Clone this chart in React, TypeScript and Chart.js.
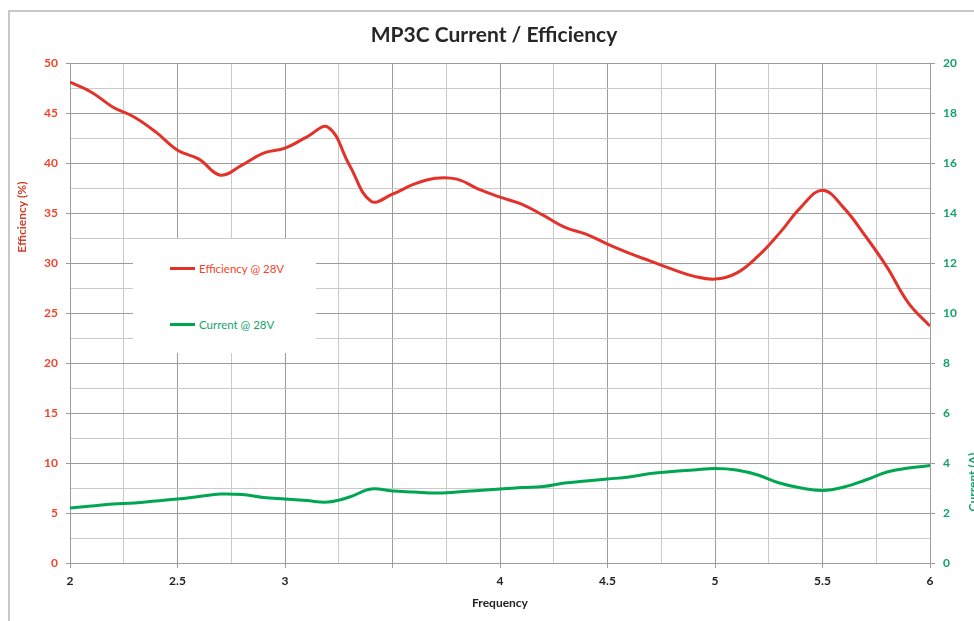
import React, { useEffect, useRef } from 'react';
import { Chart, registerables } from 'chart.js';

Chart.register(...registerables);

// ---- data ----
const frequency = [
  2.0, 2.1, 2.2, 2.3, 2.4, 2.5, 2.6, 2.7, 2.8, 2.9,
  3.0, 3.1, 3.2, 3.3, 3.4, 3.5, 3.6, 3.7, 3.8, 3.9,
  4.0, 4.1, 4.2, 4.3, 4.4, 4.5, 4.6, 4.7, 4.8, 4.9,
  5.0, 5.1, 5.2, 5.3, 5.4, 5.5, 5.6, 5.7, 5.8, 5.9, 6.0,
];
const efficiency = [
  48.1, 47.1, 45.6, 44.6, 43.1, 41.3, 40.4, 38.8, 39.8, 41.0,
  41.5, 42.6, 43.6, 39.8, 36.2, 36.9, 37.9, 38.5, 38.4, 37.4,
  36.6, 35.9, 34.8, 33.6, 32.9, 31.9, 31.0, 30.2, 29.4, 28.7,
  28.4, 29.0, 30.7, 33.0, 35.6, 37.3, 35.5, 32.7, 29.6, 26.0, 23.7,
];
const current = [
  2.2, 2.28, 2.36, 2.4, 2.48, 2.56, 2.66, 2.76, 2.74, 2.62,
  2.56, 2.5, 2.44, 2.64, 2.96, 2.88, 2.84, 2.8, 2.84, 2.9,
  2.96, 3.02, 3.06, 3.2, 3.28, 3.36, 3.44, 3.58, 3.66, 3.72,
  3.78, 3.72, 3.52, 3.2, 3.0, 2.9, 3.04, 3.32, 3.64, 3.8, 3.9,
];
const seriesLabels = ['Efficiency @ 28V', 'Current @ 28V'];
const chartTitle = 'MP3C Current / Efficiency';
const xTitle = 'Frequency';
const yLeftTitle = 'Efficiency (%)';
const yRightTitle = 'Current (A)';

// ---- styles ----
const RED = '#e2322a';
const GREEN = '#00a651';
const RED_TEXT = '#f0442c';
const GREEN_TEXT = '#11a36a';
const RED_TITLE = '#cf3f2b';
const GRID_MAJOR = '#9c9c9c';
const GRID_MINOR = '#cacaca';
const FONT = 'Lato, "Open Sans", sans-serif';
const W = 988;
const H = 621;

const isMultiple = (v: number, step: number) =>
  Math.abs(v / step - Math.round(v / step)) < 1e-6;

const axisTitlePlugin = {
  id: 'axisTitles',
  afterDraw(chart: any) {
    const { ctx, chartArea } = chart;
    const h = chartArea.bottom - chartArea.top;
    ctx.save();
    ctx.font = `bold 12px ${FONT}`;
    ctx.textAlign = 'center';
    ctx.textBaseline = 'middle';
    ctx.fillStyle = RED_TITLE;
    ctx.translate(chartArea.left - 48, chartArea.top + h * 0.308);
    ctx.rotate(-Math.PI / 2);
    ctx.fillText(yLeftTitle, 0, 0);
    ctx.restore();

    ctx.save();
    ctx.font = `bold 12px ${FONT}`;
    ctx.textAlign = 'center';
    ctx.textBaseline = 'middle';
    ctx.fillStyle = GREEN_TEXT;
    ctx.translate(chartArea.right + 43, chartArea.top + h * 0.838);
    ctx.rotate(-Math.PI / 2);
    ctx.fillText(yRightTitle, 0, 0);
    ctx.restore();
  },
};

export default function App() {
  const canvasRef = useRef<HTMLCanvasElement | null>(null);

  useEffect(() => {
    if (!canvasRef.current) return;
    const chart = new Chart(canvasRef.current, {
      type: 'line',
      data: {
        datasets: [
          {
            label: seriesLabels[0],
            data: frequency.map((f, i) => ({ x: f, y: efficiency[i] })),
            borderColor: RED,
            backgroundColor: RED,
            borderWidth: 3,
            pointRadius: 0,
            tension: 0.4,
            yAxisID: 'y',
          },
          {
            label: seriesLabels[1],
            data: frequency.map((f, i) => ({ x: f, y: current[i] })),
            borderColor: GREEN,
            backgroundColor: GREEN,
            borderWidth: 3,
            pointRadius: 0,
            tension: 0.4,
            yAxisID: 'y1',
          },
        ],
      },
      options: {
        responsive: false,
        animation: false,
        devicePixelRatio: 1,
        layout: { padding: 0 },
        plugins: {
          legend: { display: false },
          tooltip: { enabled: false },
          title: {
            display: true,
            text: chartTitle,
            color: '#262626',
            font: { family: FONT, size: 21, weight: 'bold' },
            padding: { top: 23, bottom: 15 },
          },
        },
        scales: {
          x: {
            type: 'linear',
            position: 'bottom',
            min: 2,
            max: 6,
            afterFit: (s: any) => { s.height = 58; },
            ticks: {
              stepSize: 0.25,
              autoSkip: false,
              maxRotation: 0,
              padding: 6,
              color: '#222222',
              font: { family: FONT, size: 12, weight: 'bold' },
              callback: (v: any) => {
                const n = Number(v);
                if (!isMultiple(n, 0.5) || Math.abs(n - 3.5) < 1e-6) return '';
                return String(n);
              },
            },
            grid: {
              color: (c: any) => (c.tick && isMultiple(c.tick.value, 0.5) ? GRID_MAJOR : GRID_MINOR),
              tickColor: (c: any) => (c.tick && isMultiple(c.tick.value, 0.5) ? GRID_MAJOR : 'rgba(0,0,0,0)'),
              tickLength: 5,
              lineWidth: 1,
            },
            border: { color: GRID_MAJOR, width: 1 },
            title: {
              display: true,
              text: xTitle,
              color: '#222222',
              font: { family: FONT, size: 12, weight: 'bold' },
              padding: { top: 0, bottom: 11 },
            },
          },
          y: {
            type: 'linear',
            position: 'left',
            min: 0,
            max: 50,
            afterFit: (s: any) => { s.width = 70; },
            ticks: {
              stepSize: 2.5,
              autoSkip: false,
              padding: 8,
              color: RED_TEXT,
              font: { family: FONT, size: 12, weight: 'bold' },
              callback: (v: any) => {
                const n = Number(v);
                return isMultiple(n, 5) ? String(n) : '';
              },
            },
            grid: {
              color: (c: any) => (c.tick && isMultiple(c.tick.value, 5) ? GRID_MAJOR : GRID_MINOR),
              tickColor: (c: any) => (c.tick && isMultiple(c.tick.value, 5) ? GRID_MAJOR : 'rgba(0,0,0,0)'),
              tickLength: 4,
              lineWidth: 1,
            },
            border: { color: GRID_MAJOR, width: 1 },
          },
          y1: {
            type: 'linear',
            position: 'right',
            min: 0,
            max: 20,
            afterFit: (s: any) => { s.width = W - 930; },
            ticks: {
              stepSize: 2,
              padding: 8,
              color: GREEN_TEXT,
              font: { family: FONT, size: 12, weight: 'bold' },
            },
            grid: {
              drawOnChartArea: false,
              tickColor: GRID_MAJOR,
              tickLength: 5,
            },
            border: { color: GRID_MAJOR, width: 1 },
          },
        },
      },
      plugins: [axisTitlePlugin],
    });
    return () => chart.destroy();
  }, []);

  return (
    <div
      style={{
        position: 'fixed',
        left: 0,
        top: 0,
        width: 974,
        height: 621,
        overflow: 'hidden',
        background: '#ffffff',
      }}
    >
      <canvas
        ref={canvasRef}
        width={W}
        height={H}
        style={{ position: 'absolute', left: 0, top: 0, width: W, height: H, display: 'block' }}
      />
      <div
        style={{
          position: 'absolute',
          left: 8,
          top: 10,
          width: 1200,
          height: 1000,
          borderLeft: '2px solid #c8c8c8',
          borderTop: '2px solid #c8c8c8',
          pointerEvents: 'none',
        }}
      />
      <div
        style={{
          position: 'absolute',
          left: 133,
          top: 239,
          width: 183,
          height: 114,
          background: '#ffffff',
          fontFamily: FONT,
          fontSize: 11.5,
        }}
      >
        {seriesLabels.map((label, i) => (
          <div
            key={label}
            style={{
              position: 'absolute',
              left: 37,
              top: i === 0 ? 22 : 78,
              height: 14,
              display: 'flex',
              alignItems: 'center',
              whiteSpace: 'nowrap',
              color: i === 0 ? RED_TEXT : GREEN_TEXT,
            }}
          >
            <span
              style={{
                display: 'inline-block',
                width: 25,
                height: 3,
                background: i === 0 ? RED : GREEN,
                marginRight: 4,
              }}
            />
            <span>{label}</span>
          </div>
        ))}
      </div>
    </div>
  );
}
